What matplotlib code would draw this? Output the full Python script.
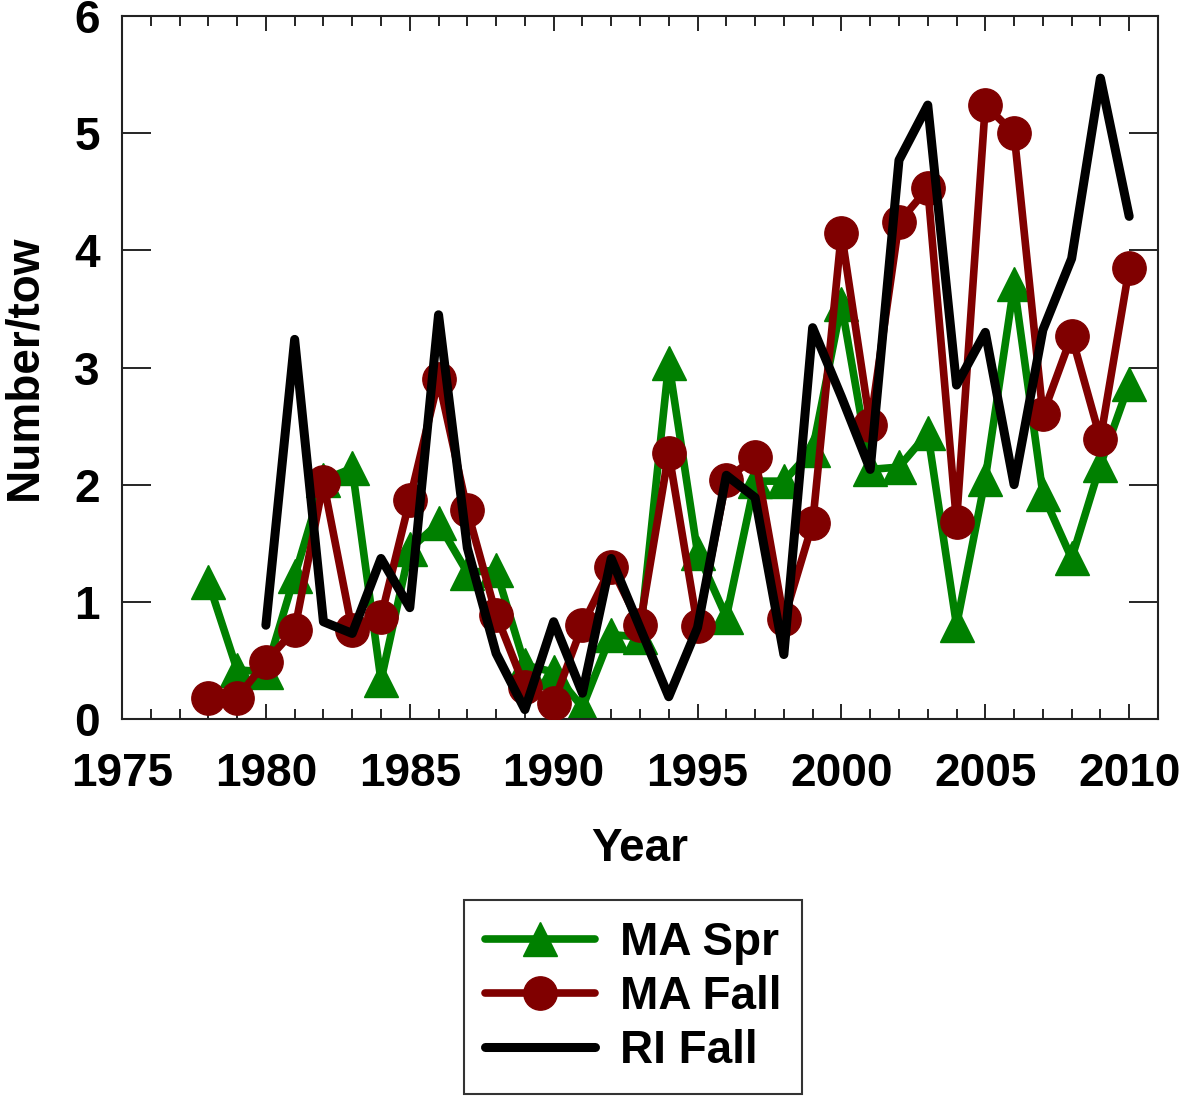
import matplotlib
matplotlib.use("Agg")
import matplotlib.pyplot as plt
import numpy as np

plt.rcParams['font.family'] = ['Liberation Sans', 'DejaVu Sans']
plt.rcParams['font.weight'] = 'bold'

# --- data ---
years_ma = np.arange(1978, 2011)
years_ri = np.arange(1980, 2011)

ma_spr = [1.17, 0.42, 0.40, 1.22, 2.04, 2.14, 0.33, 1.45, 1.67, 1.25, 1.27,
          0.46, 0.40, 0.10, 0.72, 0.70, 3.04, 1.42, 0.87, 2.03, 2.03, 2.30,
          3.54, 2.13, 2.15, 2.44, 0.80, 2.05, 3.71, 1.92, 1.37, 2.17, 2.86]
ma_fall = [0.18, 0.18, 0.49, 0.76, 2.02, 0.76, 0.87, 1.87, 2.90, 1.78, 0.89,
           0.27, 0.14, 0.80, 1.30, 0.80, 2.27, 0.79, 2.04, 2.24, 0.85, 1.67,
           4.15, 2.51, 4.24, 4.53, 1.68, 5.24, 5.00, 2.60, 3.27, 2.39, 3.85]
ri_fall = [0.80, 3.24, 0.83, 0.73, 1.37, 0.95, 3.45, 1.46, 0.56, 0.08, 0.83,
           0.22, 1.37, 0.78, 0.19, 0.78, 2.08, 1.89, 0.55, 3.34, 2.75, 2.13,
           4.77, 5.24, 2.85, 3.30, 2.00, 3.32, 3.93, 5.47, 4.29]

x_ticks = [1975, 1980, 1985, 1990, 1995, 2000, 2005, 2010]
y_ticks = [0, 1, 2, 3, 4, 5, 6]

fs = 33

fig = plt.figure(figsize=(11.81, 10.99), dpi=100)
ax = fig.add_axes([0.1033, 0.3458, 0.8772, 0.6396])

ax.plot(years_ma, ma_spr, color='#008000', lw=5.5, marker='^', ms=25,
        solid_capstyle='round', label='MA Spr', zorder=2)
ax.plot(years_ma, ma_fall, color='#800000', lw=5.5, marker='o', ms=24,
        solid_capstyle='round', label='MA Fall', zorder=3)
ax.plot(years_ri, ri_fall, color='black', lw=6.5,
        solid_capstyle='round', label='RI Fall', zorder=4)

ax.set_xlim(1975, 2011)
ax.set_ylim(0, 6)
ax.set_xticks(x_ticks)
ax.set_xticks(np.arange(1976, 2011), minor=True)
ax.set_yticks(y_ticks)

ax.tick_params(axis='x', which='major', direction='in', length=11, width=1.2,
               top=True, pad=24, labelsize=fs)
ax.tick_params(axis='x', which='minor', direction='in', length=7, width=1.2,
               top=True)
ax.tick_params(axis='y', which='major', direction='in', length=21, width=1.2,
               right=True, pad=16, labelsize=fs)
for lab in ax.get_xticklabels() + ax.get_yticklabels():
    lab.set_fontweight('bold')

for sp in ax.spines.values():
    sp.set_linewidth(1.5)
    sp.set_color('#222222')

ax.set_xlabel('Year', fontsize=fs, fontweight='bold', labelpad=22)
ax.set_ylabel('Number/tow', fontsize=fs, fontweight='bold', labelpad=20)

leg = ax.legend(loc='center', bbox_to_anchor=(633 / 1181, 1 - 997 / 1099),
                bbox_transform=fig.transFigure, fontsize=fs, frameon=True,
                fancybox=False, edgecolor='black', handlelength=2.4,
                handletextpad=0.55, borderpad=0.45, labelspacing=0.22,
                numpoints=1, borderaxespad=0)
leg.get_frame().set_linewidth(1.5)
for t in leg.get_texts():
    t.set_fontweight('bold')

fig.savefig('out.png', dpi=100)
